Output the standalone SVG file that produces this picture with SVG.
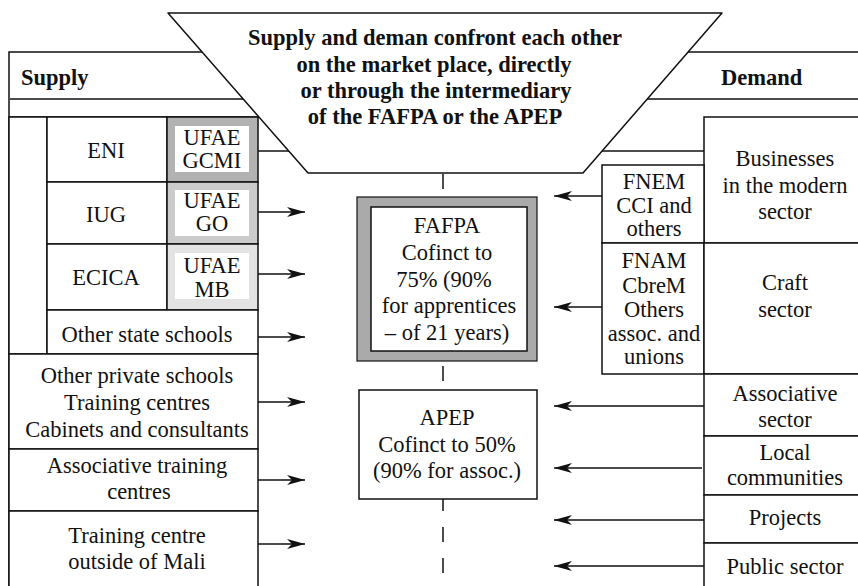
<svg xmlns="http://www.w3.org/2000/svg" width="858" height="586" viewBox="0 0 858 586">
<style>
text{font-family:"Liberation Serif","Times New Roman",serif;font-size:22.5px;fill:#111;text-anchor:middle}
.b{font-weight:bold}
.l{text-anchor:start}
.c{fill:#fff;stroke:#111;stroke-width:1.5}
.ln{fill:none;stroke:#111;stroke-width:1.5}
.w{fill:#fff;stroke:none}
.ar{stroke:#111;stroke-width:1.5;fill:none;marker-end:url(#ah)}
.d{stroke:#111;stroke-width:1.5}
</style>
<defs>
<marker id="ah" markerUnits="userSpaceOnUse" markerWidth="18" markerHeight="10" refX="18" refY="5" orient="auto">
<path d="M0,0 L18,5 L0,10 L5,5 z" fill="#111"/>
</marker>
</defs>
<rect width="858" height="586" fill="#fff"/>

<g id="supply-header">
<path class="ln" d="M202,52 H9 V586 M10,99 H243 M9,117 H259"/>
<text class="b l" x="21" y="85">Supply</text>
</g>
<g id="state-bracket"><rect class="c" x="9" y="117" width="38" height="237"/></g>
<g id="eni"><rect class="c" x="47" y="117" width="120" height="65"/><text x="106" y="158">ENI</text></g>
<g id="ufae-gcmi"><rect x="167" y="117" width="91" height="65" fill="#b2b2b2" stroke="#111" stroke-width="1.5"/><rect class="w" x="175" y="126" width="74" height="46"/><text x="212" y="145">UFAE</text><text x="212" y="168">GCMI</text></g>
<g id="iug"><rect class="c" x="47" y="182" width="120" height="62"/><text x="106" y="222">IUG</text></g>
<g id="ufae-go"><rect x="167" y="182" width="91" height="62" fill="#cbcbcb" stroke="#111" stroke-width="1.5"/><rect class="w" x="175" y="190" width="74" height="46"/><text x="212" y="208">UFAE</text><text x="212" y="231">GO</text></g>
<g id="ecica"><rect class="c" x="47" y="244" width="120" height="66"/><text x="106" y="285">ECICA</text></g>
<g id="ufae-mb"><rect x="167" y="244" width="91" height="66" fill="#e3e3e3" stroke="#111" stroke-width="1.5"/><rect class="w" x="175" y="253" width="74" height="46"/><text x="212" y="273">UFAE</text><text x="212" y="297">MB</text></g>
<g id="other-state"><rect class="c" x="47" y="310" width="211" height="44"/><text x="147" y="342">Other state schools</text></g>
<g id="other-private"><rect class="c" x="9" y="354" width="249" height="95"/><text x="137" y="383">Other private schools</text><text x="137" y="410">Training centres</text><text x="137" y="437">Cabinets and consultants</text></g>
<g id="assoc-training"><rect class="c" x="9" y="449" width="249" height="62"/><text x="137" y="473">Associative training</text><text x="139" y="499">centres</text></g>
<g id="outside-mali"><rect class="c" x="9" y="511" width="249" height="85"/><text x="137" y="543">Training centre</text><text x="137" y="569">outside of Mali</text></g>

<g id="demand-header">
<path class="ln" d="M688,52 H858 M647,99 H858"/>
<text class="b l" x="721" y="85">Demand</text>
</g>
<g id="businesses"><rect class="c" x="704" y="117" width="160" height="126"/><text x="785" y="166">Businesses</text><text x="785" y="192.5">in the modern</text><text x="785" y="219">sector</text></g>
<g id="fnem"><rect class="c" x="602" y="165" width="102" height="78"/><text x="654" y="189">FNEM</text><text x="654" y="213">CCI and</text><text x="654" y="236">others</text></g>
<g id="fnam"><rect class="c" x="602" y="243" width="102" height="131"/><text x="654" y="268">FNAM</text><text x="654" y="293">CbreM</text><text x="654" y="317">Others</text><text x="654" y="341">assoc. and</text><text x="654" y="364">unions</text></g>
<g id="craft"><rect class="c" x="704" y="243" width="160" height="131"/><text x="785" y="290">Craft</text><text x="785" y="317">sector</text></g>
<g id="associative-sector"><rect class="c" x="704" y="374" width="160" height="62"/><text x="785" y="401">Associative</text><text x="785" y="427">sector</text></g>
<g id="local-communities"><rect class="c" x="704" y="436" width="160" height="59"/><text x="785" y="460">Local</text><text x="785" y="485">communities</text></g>
<g id="projects"><rect class="c" x="704" y="495" width="160" height="48"/><text x="785" y="525">Projects</text></g>
<g id="public-sector"><rect class="c" x="704" y="543" width="160" height="50"/><text x="785" y="574">Public sector</text></g>

<g id="market-place">
<polygon points="168,13 722,13 583,173 308,173" fill="#fff" stroke="#111" stroke-width="1.5" stroke-linejoin="round"/>
<text class="b" x="435" y="45">Supply and deman confront each other</text>
<text class="b" x="434" y="71.5">on the market place, directly</text>
<text class="b" x="436" y="98">or through the intermediary</text>
<text class="b" x="435" y="124">of the FAFPA or the APEP</text>
</g>

<g id="fafpa">
<rect x="357" y="197" width="180" height="164" fill="#aaaaaa" stroke="#111" stroke-width="1.2"/>
<rect x="371" y="207" width="156" height="144" fill="#fff" stroke="#111" stroke-width="1.5"/>
<text x="447" y="233">FAFPA</text>
<text x="447" y="260">Cofinct to</text>
<text x="444" y="287">75% (90%</text>
<text x="449" y="313">for apprentices</text>
<text x="447" y="340">– of 21 years)</text>
</g>
<g id="apep">
<rect class="c" x="359" y="390" width="178" height="109"/>
<text x="447" y="425">APEP</text>
<text x="447" y="452">Cofinct to 50%</text>
<text x="447" y="478">(90% for assoc.)</text>
</g>

<g id="connectors">
<line class="d" x1="258" y1="151" x2="289" y2="151"/>
<line class="d" x1="602" y1="151" x2="704" y2="151"/>
<line class="d" x1="443" y1="174" x2="443" y2="189"/>
<line class="d" x1="443" y1="366" x2="443" y2="381"/>
<line class="d" x1="443" y1="499" x2="443" y2="511"/>
<line class="d" x1="443" y1="527" x2="443" y2="542"/>
<line class="d" x1="443" y1="558" x2="443" y2="573"/>
<line class="ar" x1="258" y1="212" x2="305" y2="212"/>
<line class="ar" x1="258" y1="274" x2="305" y2="274"/>
<line class="ar" x1="258" y1="337" x2="305" y2="337"/>
<line class="ar" x1="258" y1="402" x2="305" y2="402"/>
<line class="ar" x1="258" y1="480" x2="305" y2="480"/>
<line class="ar" x1="258" y1="544" x2="305" y2="544"/>
<line class="ar" x1="602" y1="196" x2="554" y2="196"/>
<line class="ar" x1="602" y1="307" x2="554" y2="307"/>
<line class="ar" x1="704" y1="406" x2="554" y2="406"/>
<line class="ar" x1="702" y1="468" x2="554" y2="468"/>
<line class="ar" x1="704" y1="520" x2="554" y2="520"/>
<line class="ar" x1="704" y1="566" x2="554" y2="566"/>
</g>
</svg>
